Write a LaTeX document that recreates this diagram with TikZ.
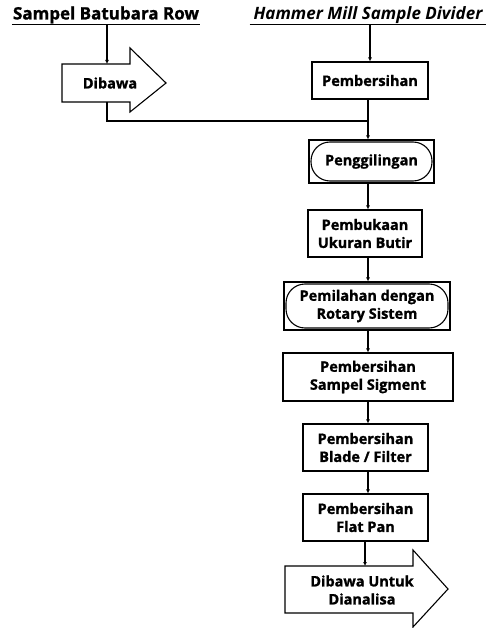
\documentclass[tikz,border=0pt]{standalone}
\usepackage{fontspec}
\setmainfont{Open Sans}[BoldFeatures={FakeBold=1.2}]
\usepackage{tikz}
\usetikzlibrary{positioning, arrows.meta}

\begin{document}
\begin{tikzpicture}[x=1pt, y=-1pt, line width=1.1pt, >={Latex[length=4pt,width=4pt]},
  boxtext/.style={font=\fontsize{14.5}{18}\selectfont\bfseries, align=center},
  procbox/.style={boxtext, draw, rectangle, inner sep=0pt},
  grindbox/.style={procbox, path picture={\draw[line width=1.1pt, rounded corners=19pt]
    ([shift={(2pt,-2pt)}]path picture bounding box.north west) rectangle
    ([shift={(-2pt,2pt)}]path picture bounding box.south east);}},
  title/.style={font=\fontsize{17}{20}\selectfont\bfseries, inner sep=0.5pt}]
\useasboundingbox (0,0) rectangle (489,628);
\coordinate (spine) at (368,0);
\coordinate (dibtop) at (107,64);
\coordinate (dibbot) at (107,102);
\coordinate (join) at (368,121);
\coordinate (anatop) at (365,566);

\node[title] (sampel) at (106,15) {Sampel Batubara Row};
\node[title] (hammer) at (368,15) {\itshape Hammer Mill Sample Divider};
\draw[line width=1.2pt] (sampel.south west) -- (sampel.south east); % underline
\draw[line width=1.2pt] ([xshift=-3pt]hammer.south west) -- ([xshift=2pt]hammer.south east); % underline

\draw (62,64) -- (130,64) -- (130,48) -- (166,83) -- (130,112) -- (130,102) -- (62,102) -- cycle; % Dibawa arrow
\node[boxtext] (dibawa) at (110,83) {Dibawa};

\node[procbox, minimum width=116pt, minimum height=37pt] (pemb1) at (370,80.5) {Pembersihan};
\node[grindbox, minimum width=125pt, minimum height=43pt] (gil) at (371.5,161.5) {Penggilingan};
\node[procbox, minimum width=114pt, minimum height=47pt] (ukur) at (365,233.5) {Pembukaan\\Ukuran Butir};
\node[grindbox, minimum width=166pt, minimum height=48pt] (pilah) at (367,306) {Pemilahan dengan\\Rotary Sistem};
\node[procbox, minimum width=170pt, minimum height=48pt] (pemb2) at (368,377) {Pembersihan\\Sampel Sigment};
\node[procbox, minimum width=125pt, minimum height=47pt] (pemb3) at (365.5,447.5) {Pembersihan\\Blade / Filter};
\node[procbox, minimum width=125pt, minimum height=47pt] (pemb4) at (365.5,517.5) {Pembersihan\\Flat Pan};

\draw (285,566) -- (413,566) -- (413,550) -- (448,589) -- (413,627) -- (413,613) -- (285,613) -- cycle; % last arrow
\node[boxtext] (analisa) at (362,590) {Dibawa Untuk\\Dianalisa};

\draw[->] (sampel.south -| dibtop) -- (dibtop);
\draw[->] (hammer.south -| pemb1) -- (pemb1);
\draw (dibbot) |- (join); % Dibawa to main line
\draw[->] (pemb1.south -| spine) -- (gil.north -| spine);
\foreach \a/\b in {gil/ukur, ukur/pilah, pilah/pemb2, pemb2/pemb3, pemb3/pemb4}{\draw[->] (\a.south -| spine) -- (\b.north -| spine);}
\draw[->] (pemb4.south -| anatop) -- (anatop);
\end{tikzpicture}
\end{document}
